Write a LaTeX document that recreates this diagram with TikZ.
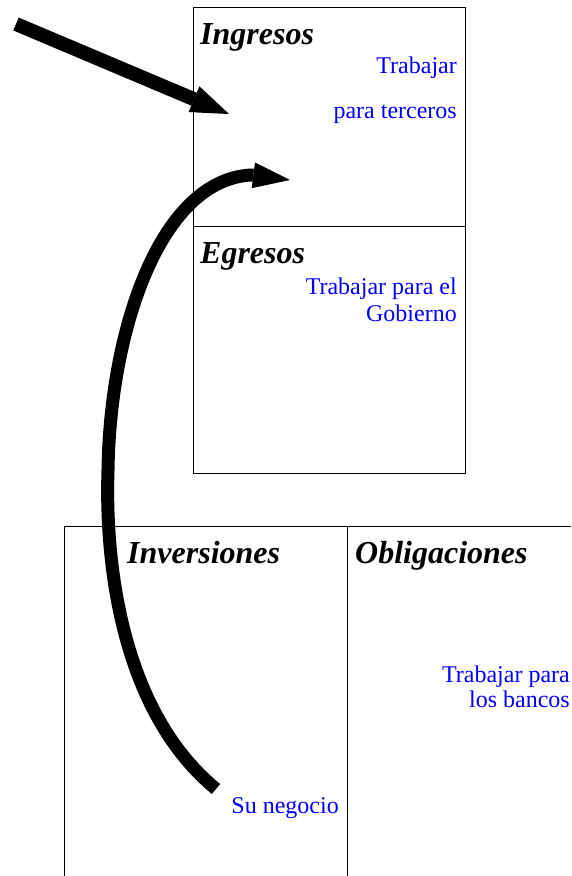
\documentclass[tikz,border=0pt]{standalone}
\usepackage{fontspec}
\setmainfont{Liberation Serif}
\usetikzlibrary{arrows.meta}
\definecolor{txtblue}{RGB}{0,0,255}
\tikzset{
  box/.style={draw=black, line width=1pt, inner sep=0pt, anchor=north west},
  frame/.style={draw=black, line width=1pt},
  title/.style={inner sep=0pt, anchor=base west, font=\fontsize{32}{38}\selectfont\bfseries\itshape},
  note/.style={inner sep=0pt, anchor=base east, text=txtblue, font=\fontsize{24}{27}\selectfont},
  bigarrow/.style={line width=14pt, line cap=butt, -{Triangle[length=38pt,width=28pt,line width=0pt]}},
  curvearrow/.style={line width=13pt, line cap=butt, -{Triangle[length=37pt,width=26pt,line width=0pt]}}
}
\begin{document}
\begin{tikzpicture}[x=1pt,y=-1pt]
\useasboundingbox (0,0) rectangle (571,876);
% top boxes
\node[box, minimum width=272pt, minimum height=219pt] (ingbox) at (193,7) {};
\node[box, minimum width=272pt, minimum height=247pt] (egrbox) at (193,226) {};
% bottom open boxes
\coordinate (bl) at (64,526);
\coordinate (bm) at (347,526);
\coordinate (br) at (571,526);
\coordinate (bl2) at (64,876);
\coordinate (bm2) at (347,876);
\draw[frame] (bl) -- (br);
\draw[frame] (bl) -- (bl2);
\draw[frame] (bm) -- (bm2);
% titles
\node[title] (ingt) at (200,44) {Ingresos};
\node[title] (egrt) at (200,263) {Egresos};
\node[title] (invt) at (127,563) {Inversiones};
\node[title] (oblt) at (355,563) {Obligaciones};
% blue notes
\node[note] (n1) at (457,73) {Trabajar};
\node[note] (n2) at (457,118) {para terceros};
\node[note] (n3) at (457,294) {Trabajar para el};
\node[note] (n4) at (457,321) {Gobierno};
\node[note] (n5) at (570,682) {Trabajar para};
\node[note] (n6) at (570,707) {los bancos};
\node[note] (n7) at (339,813) {Su negocio};
% arrows
\coordinate (a1s) at (16,24);
\coordinate (a1e) at (229,114);
\draw[bigarrow] (a1s) -- (a1e);
\coordinate (a2s) at (216,789);
\coordinate (a2m) at (108,470);
\coordinate (a2k) at (251,175);
\coordinate (a2e) at (290,180);
\draw[curvearrow] (a2s) .. controls (120,710) and (105,560) .. (a2m)
  .. controls (110,330) and (160,180) .. (a2k) -- (a2e);
\end{tikzpicture}
\end{document}
